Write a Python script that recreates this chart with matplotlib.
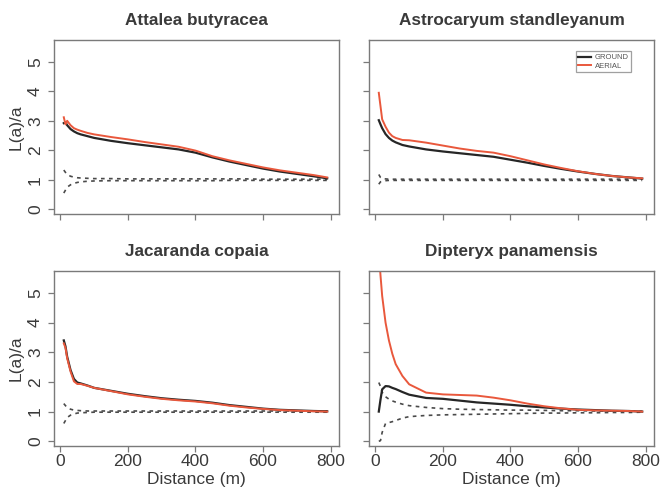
import matplotlib
matplotlib.use("Agg")
import matplotlib.pyplot as plt
from matplotlib import font_manager

# ---------------- data ----------------
distance = [10, 15, 20, 30, 40, 50, 60, 80, 100, 150, 200, 250, 300, 350,
            400, 450, 500, 550, 600, 650, 700, 750, 790]

titles = ["Attalea butyracea", "Astrocaryum standleyanum",
          "Jacaranda copaia", "Dipteryx panamensis"]

attalea_ground = [2.92, 2.95, 2.85, 2.72, 2.64, 2.58, 2.54, 2.48, 2.42, 2.32, 2.24, 2.17,
                  2.10, 2.03, 1.92, 1.76, 1.62, 1.50, 1.38, 1.28, 1.20, 1.12, 1.05]
attalea_aerial = [3.12, 2.88, 3.00, 2.85, 2.75, 2.70, 2.66, 2.59, 2.54, 2.45, 2.37, 2.28,
                  2.20, 2.12, 1.99, 1.80, 1.66, 1.54, 1.42, 1.32, 1.24, 1.16, 1.08]
attalea_upper = [1.33, 1.25, 1.18, 1.12, 1.09, 1.07, 1.06, 1.05, 1.04, 1.04, 1.03, 1.03,
                 1.03, 1.03, 1.03, 1.03, 1.03, 1.03, 1.02, 1.02, 1.02, 1.02, 1.02]
attalea_lower = [0.55, 0.65, 0.75, 0.83, 0.88, 0.91, 0.93, 0.95, 0.96, 0.97, 0.97, 0.97,
                 0.97, 0.97, 0.97, 0.97, 0.98, 0.98, 0.98, 0.98, 0.98, 0.98, 0.98]

astro_ground = [3.02, 2.88, 2.75, 2.55, 2.42, 2.33, 2.27, 2.18, 2.13, 2.03, 1.96, 1.90,
                1.84, 1.78, 1.68, 1.58, 1.47, 1.37, 1.28, 1.20, 1.13, 1.08, 1.04]
astro_aerial = [3.95, 3.50, 3.05, 2.80, 2.60, 2.48, 2.42, 2.35, 2.34, 2.26, 2.16, 2.06,
                1.98, 1.92, 1.80, 1.66, 1.52, 1.40, 1.29, 1.20, 1.13, 1.08, 1.05]
astro_upper = [1.18, 1.08, 1.04, 1.03, 1.02, 1.02, 1.02, 1.02, 1.02, 1.02, 1.02, 1.02,
               1.02, 1.02, 1.02, 1.02, 1.02, 1.02, 1.02, 1.02, 1.02, 1.02, 1.02]
astro_lower = [0.85, 0.93, 0.96, 0.97, 0.98, 0.98, 0.98, 0.98, 0.98, 0.98, 0.98, 0.98,
               0.98, 0.98, 0.98, 0.98, 0.98, 0.98, 0.98, 0.98, 0.98, 0.98, 0.98]

jaca_ground = [3.40, 3.20, 2.85, 2.40, 2.10, 1.98, 1.95, 1.88, 1.80, 1.70, 1.60, 1.52,
               1.45, 1.40, 1.36, 1.30, 1.22, 1.16, 1.10, 1.06, 1.04, 1.02, 1.01]
jaca_aerial = [3.30, 3.15, 2.80, 2.35, 2.02, 1.93, 1.93, 1.87, 1.80, 1.69, 1.58, 1.50,
               1.43, 1.38, 1.34, 1.28, 1.20, 1.14, 1.09, 1.05, 1.03, 1.01, 1.00]
jaca_upper = [1.27, 1.20, 1.14, 1.08, 1.05, 1.04, 1.03, 1.02, 1.02, 1.02, 1.02, 1.02,
              1.02, 1.02, 1.02, 1.02, 1.02, 1.02, 1.02, 1.02, 1.02, 1.02, 1.02]
jaca_lower = [0.60, 0.70, 0.80, 0.88, 0.92, 0.95, 0.96, 0.97, 0.98, 0.98, 0.98, 0.98,
              0.98, 0.98, 0.98, 0.98, 0.98, 0.98, 0.98, 0.98, 0.98, 0.98, 0.98]

dipt_ground = [1.00, 1.40, 1.75, 1.86, 1.85, 1.80, 1.76, 1.66, 1.57, 1.46, 1.43, 1.37,
               1.31, 1.27, 1.23, 1.18, 1.14, 1.10, 1.07, 1.05, 1.03, 1.02, 1.00]
dipt_aerial = [6.40, 5.60, 4.90, 4.00, 3.40, 2.95, 2.60, 2.20, 1.92, 1.64, 1.58, 1.56,
               1.54, 1.47, 1.38, 1.27, 1.18, 1.11, 1.06, 1.04, 1.03, 1.02, 1.00]
dipt_upper = [1.98, 1.85, 1.65, 1.50, 1.42, 1.36, 1.32, 1.25, 1.20, 1.14, 1.10, 1.08,
              1.07, 1.06, 1.05, 1.05, 1.04, 1.03, 1.03, 1.02, 1.02, 1.02, 1.01]
dipt_lower = [0.00, 0.02, 0.30, 0.60, 0.63, 0.66, 0.70, 0.78, 0.83, 0.87, 0.89, 0.90,
              0.91, 0.92, 0.93, 0.94, 0.95, 0.95, 0.96, 0.96, 0.97, 0.97, 0.98]

x_ticks = [0, 200, 400, 600, 800]
y_ticks = [0, 1, 2, 3, 4, 5]

panels = [
    (attalea_ground, attalea_aerial, attalea_upper, attalea_lower),
    (astro_ground, astro_aerial, astro_upper, astro_lower),
    (jaca_ground, jaca_aerial, jaca_upper, jaca_lower),
    (dipt_ground, dipt_aerial, dipt_upper, dipt_lower),
]

# ---------------- style ----------------
avail = {f.name for f in font_manager.fontManager.ttflist}
base_font = "Liberation Sans" if "Liberation Sans" in avail else "DejaVu Sans"
plt.rcParams["font.family"] = [base_font, "DejaVu Sans"]

TXT = "#3a3a3a"
FRAME = "#7a7a7a"
GROUND_C = "#262626"
AERIAL_C = "#e9583c"
ENV_C = "#4a4a4a"

fig = plt.figure(figsize=(6.6, 4.95), dpi=100)
W, H = 660.0, 495.0

# axes boxes in pixel coordinates (left, top, right, bottom)
boxes = [(54, 40, 339, 214), (369, 40, 654, 214),
         (54, 271, 339, 446), (369, 271, 654, 446)]

for i, ((l, t, r, b), (g, a, up, lo), title) in enumerate(zip(boxes, panels, titles)):
    ax = fig.add_axes([l / W, (H - b) / H, (r - l) / W, (b - t) / H])
    ax.plot(distance, up, color=ENV_C, lw=1.2, ls=(0, (2.2, 2.6)))
    ax.plot(distance, lo, color=ENV_C, lw=1.2, ls=(0, (2.2, 2.6)))
    lg, = ax.plot(distance, g, color=GROUND_C, lw=1.6, label="GROUND")
    la, = ax.plot(distance, a, color=AERIAL_C, lw=1.4, label="AERIAL")

    ax.set_xlim(-19, 825)
    ax.set_ylim(-0.16, 5.74)
    ax.set_xticks(x_ticks)
    ax.set_yticks(y_ticks)
    for s in ax.spines.values():
        s.set_color(FRAME)
        s.set_linewidth(1.0)
    ax.tick_params(direction="out", length=4, width=0.9, color=FRAME,
                   labelcolor=TXT, labelsize=12.5)
    ax.tick_params(axis="y", labelrotation=90, pad=4)
    ax.tick_params(axis="x", pad=2)
    for lab in ax.get_yticklabels():
        lab.set_va("center")

    ax.set_title(title, fontsize=12.3, fontweight="bold", color=TXT, pad=11)

    if i in (0, 1):
        ax.tick_params(axis="x", labelbottom=False)
    else:
        ax.set_xlabel("Distance (m)", fontsize=12.5, color=TXT, labelpad=2)
    if i in (1, 3):
        ax.tick_params(axis="y", labelleft=False)
    else:
        ax.set_ylabel("L(a)/a", fontsize=12.5, color=TXT, labelpad=3)

    if i == 1:
        leg = ax.legend(handles=[lg, la], loc="upper right",
                        bbox_to_anchor=(0.92, 0.935), fontsize=5.5,
                        frameon=True, fancybox=False, handlelength=1.6,
                        handletextpad=0.5, borderpad=0.35, labelspacing=0.15,
                        borderaxespad=0)
        leg.get_frame().set_edgecolor("#888888")
        leg.get_frame().set_linewidth(0.9)
        for txt in leg.get_texts():
            txt.set_color("#555555")

fig.savefig("out.png", dpi=100)
